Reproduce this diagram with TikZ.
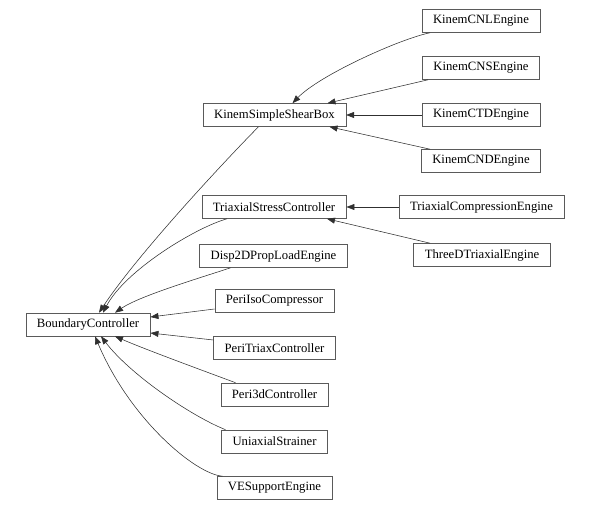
\documentclass[tikz,border=0pt]{standalone}
\usepackage{fontspec}
\setmainfont{Liberation Serif}
\usetikzlibrary{arrows.meta}
\definecolor{BoxLine}{HTML}{5A5A5A}
\definecolor{EdgeLine}{HTML}{303030}

\begin{document}
\begin{tikzpicture}[
    x=1pt, y=-1pt,
    every node/.style={font=\fontsize{12.7}{14}\selectfont},
    cls/.style={rectangle, draw=BoxLine, line width=0.6pt, fill=white, inner xsep=11pt, inner ysep=0pt, minimum height=23pt},
    inherit/.style={-{Triangle[length=8pt,width=6pt]}, line width=0.55pt, color=EdgeLine}
  ]
    \useasboundingbox (0,0) rectangle (589,510);

    % Base class (left)
    \node[cls] (bc) at (88,324.5) {BoundaryController};

    % Middle column
    \node[cls] (kssb) at (274.5,115) {KinemSimpleShearBox};
    \node[cls] (tsc) at (274,207) {TriaxialStressController};
    \node[cls] (disp) at (273.5,256) {Disp2DPropLoadEngine};
    \node[cls] (piso) at (274.5,301) {PeriIsoCompressor};
    \node[cls] (ptri) at (274.5,348) {PeriTriaxController};
    \node[cls] (p3d) at (274.5,394.5) {Peri3dController};
    \node[cls] (uni) at (274.5,441.5) {UniaxialStrainer};
    \node[cls] (ves) at (274.5,488) {VESupportEngine};

    % Right column
    \node[cls] (kcnl) at (481,21) {KinemCNLEngine};
    \node[cls] (kcns) at (481,68) {KinemCNSEngine};
    \node[cls] (kctd) at (481,115) {KinemCTDEngine};
    \node[cls] (kcnd) at (481,161) {KinemCNDEngine};
    \node[cls] (tce) at (481.5,207) {TriaxialCompressionEngine};
    \node[cls] (threed) at (482,255) {ThreeDTriaxialEngine};

    % Kinem engines -> KinemSimpleShearBox
    \draw[inherit] ([xshift=-51pt]kcnl.south) .. controls +(-30,6) and +(27,-28) .. ([xshift=18pt]kssb.north);
    \draw[inherit] ([xshift=-53pt]kcns.south) -- ([xshift=53pt]kssb.north);
    \draw[inherit] (kctd.west) -- (kssb.east);
    \draw[inherit] ([xshift=-51pt]kcnd.north) -- ([xshift=55pt]kssb.south);

    % Triaxial engines -> TriaxialStressController
    \draw[inherit] (tce.west) -- (tsc.east);
    \draw[inherit] ([xshift=-52pt]threed.north) -- ([xshift=53pt]tsc.south);

    % Middle column -> BoundaryController
    \draw[inherit] ([xshift=-16pt]kssb.south) .. controls +(-23,23) and +(41,-62) .. ([xshift=11pt]bc.north);
    \draw[inherit] ([xshift=-47pt]tsc.south) .. controls +(-32,9) and +(22,-42) .. ([xshift=15pt]bc.north);
    \draw[inherit] ([xshift=-43pt]disp.south) .. controls +(-30,10) and +(25,-17) .. ([xshift=27pt]bc.north);
    \draw[inherit] ([yshift=-8pt]piso.west) -- ([yshift=7.5pt]bc.east);
    \draw[inherit] ([yshift=8pt]ptri.west) -- ([yshift=-8.5pt]bc.east);
    \draw[inherit] ([xshift=-39pt]p3d.north) .. controls +(-35,-13) and +(30,13) .. ([xshift=27pt]bc.south);
    \draw[inherit] ([xshift=-49pt]uni.north) .. controls +(-35,-14) and +(29,38) .. ([xshift=13pt]bc.south);
    \draw[inherit] ([xshift=-52pt]ves.north) .. controls +(-27,-2) and +(35,83) .. ([xshift=7pt]bc.south);

  \end{tikzpicture}
\end{document}
